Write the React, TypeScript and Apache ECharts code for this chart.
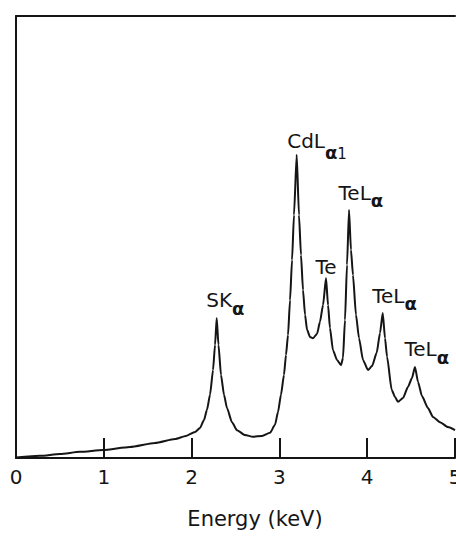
import React, { useEffect, useRef } from "react";
import * as echarts from "echarts";

// Spectrum: energy (keV) and intensity (arbitrary units, 0-100)
const energies = [
  0, 0.273, 0.501, 0.729, 0.991, 1.298, 1.583, 1.811, 1.936, 2.039, 2.096, 2.141, 2.175, 2.21, 2.244,
  2.267, 2.286, 2.306, 2.335, 2.369, 2.403, 2.46, 2.517, 2.608, 2.699, 2.802, 2.893, 2.95, 2.984,
  3.018, 3.052, 3.075, 3.098, 3.121, 3.144, 3.166, 3.197, 3.223, 3.246, 3.269, 3.292, 3.315, 3.349,
  3.383, 3.429, 3.462, 3.497, 3.531, 3.554, 3.576, 3.61, 3.656, 3.702, 3.724, 3.747, 3.77, 3.793,
  3.815, 3.838, 3.872, 3.907, 3.952, 4.009, 4.055, 4.108, 4.146, 4.177, 4.203, 4.226, 4.279, 4.317,
  4.351, 4.408, 4.465, 4.51, 4.544, 4.579, 4.624, 4.692, 4.749, 4.829, 4.92, 5.0,
];
const intensities = [
  0.1, 0.5, 0.9, 1.4, 1.8, 2.5, 3.4, 4.3, 5.0, 5.9, 6.8, 8.6, 10.9, 14.3, 19.9,
  25.6, 31.7, 25.6, 18.8, 14.3, 11.3, 8.1, 6.3, 5.2, 4.8, 5.0, 5.7, 7.5, 10.4,
  14.3, 18.8, 23.3, 27.8, 35.7, 44.8, 55.0, 68.6, 55.0, 45.9, 38.0, 32.4, 29.0, 27.4,
  27.1, 28.1, 30.8, 34.6, 40.7, 34.6, 29.4, 24.4, 22.2, 21.0, 22.6, 31.2, 43.7, 56.1,
  47.1, 41.4, 32.4, 27.1, 22.2, 19.9, 20.8, 23.8, 28.3, 32.8, 27.1, 22.9, 15.4, 13.8,
  12.7, 13.6, 16.1, 18.1, 20.6, 17.2, 14.0, 11.3, 9.3, 8.1, 7.0, 6.3,
];

// Peak annotations
const peakEnergies = [2.286, 3.197, 3.531, 3.793, 4.177, 4.544];
const peakLabels = [
  "{b|SK}{s|α}",
  "{b|CdL}{s|α}{n|1}",
  "{b|Te}",
  "{b|TeL}{s|α}",
  "{b|TeL}{s|α}",
  "{b|TeL}{s|α}",
];

const xTicks = [0, 1, 2, 3, 4, 5];

const FONT = "DejaVu Sans";
const INK = "#151515";

export default function App() {
  const ref = useRef<HTMLDivElement>(null);

  useEffect(() => {
    if (!ref.current) return;
    const chart = echarts.init(ref.current, null, { renderer: "svg" });
    const data = energies.map((e, i) => [e, intensities[i]]);
    const peakData = peakEnergies.map((e, i) => {
      const idx = energies.indexOf(e);
      const hasSub = peakLabels[i].indexOf("{n|") >= 0;
      return {
        coord: [e, intensities[idx]],
        label: { formatter: peakLabels[i], position: hasSub ? [-9, 7] : [-10, 0] },
      };
    });

    chart.setOption({
      animation: false,
      backgroundColor: "#ffffff",
      grid: {
        left: 16,
        right: 1,
        top: 16,
        bottom: 80,
        containLabel: false,
        outerBoundsMode: "none",
      },
      xAxis: [
        {
          type: "value",
          min: xTicks[0],
          max: xTicks[xTicks.length - 1],
          interval: 1,
          position: "bottom",
          axisLine: { show: true, onZero: false, lineStyle: { color: INK, width: 2 } },
          axisTick: { show: true, inside: true, length: 20, lineStyle: { color: INK, width: 2 } },
          axisLabel: { show: true, fontFamily: FONT, fontSize: 20, color: INK, margin: 9 },
          splitLine: { show: false },
          name: "Energy (keV)",
          nameLocation: "middle",
          nameGap: 50,
          nameTextStyle: { fontFamily: FONT, fontSize: 21, color: INK, padding: [0, 0, 0, 39] },
        },
        {
          type: "value",
          min: xTicks[0],
          max: xTicks[xTicks.length - 1],
          position: "top",
          axisLine: { show: true, onZero: false, lineStyle: { color: INK, width: 2 } },
          axisTick: { show: false },
          axisLabel: { show: false },
          splitLine: { show: false },
        },
      ],
      yAxis: {
        type: "value",
        min: 0,
        max: 100,
        axisLine: { show: true, onZero: false, lineStyle: { color: INK, width: 2 } },
        axisTick: { show: false },
        axisLabel: { show: false },
        splitLine: { show: false },
      },
      series: [
        {
          type: "line",
          data,
          showSymbol: false,
          smooth: 0.2,
          smoothMonotone: "x",
          lineStyle: { color: INK, width: 2 },
          markPoint: {
            symbol: "circle",
            symbolSize: 1,
            itemStyle: { color: "rgba(0,0,0,0)" },
            label: {
              show: true,
              align: "left",
              verticalAlign: "bottom",
              color: INK,
              fontFamily: FONT,
              rich: {
                b: { fontFamily: FONT, fontSize: 20, color: INK, lineHeight: 22 },
                s: {
                  fontFamily: FONT,
                  fontSize: 18,
                  fontWeight: "bold",
                  color: INK,
                  lineHeight: 34,
                  verticalAlign: "bottom",
                },
                n: {
                  fontFamily: FONT,
                  fontSize: 15,
                  color: INK,
                  lineHeight: 40,
                  verticalAlign: "bottom",
                },
              },
            },
            data: peakData,
          },
        },
      ],
    });
    return () => chart.dispose();
  }, []);

  return (
    <div
      ref={ref}
      style={{ position: "fixed", left: 0, top: 0, width: 456, height: 538, background: "#fff" }}
    />
  );
}
